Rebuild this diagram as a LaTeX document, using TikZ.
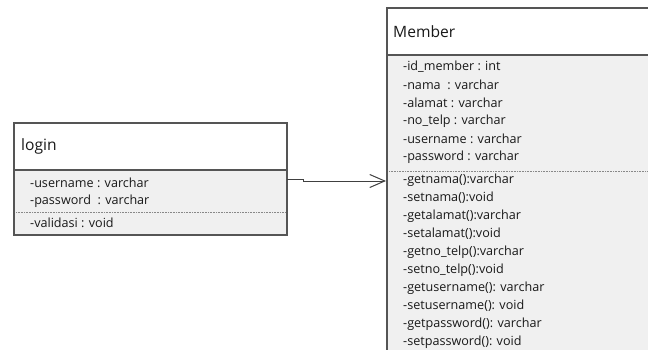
\documentclass[tikz,border=0pt]{standalone}
\usepackage{fontspec}
\setmainfont{Open Sans}
\usetikzlibrary{arrows.meta}
\definecolor{boxline}{HTML}{555555}
\definecolor{bodyfill}{HTML}{F0F0F0}
\definecolor{sepline}{HTML}{888888}
\tikzset{
  header/.style={draw=boxline, line width=1.3pt, fill=white},
  body/.style={draw=boxline, line width=1.3pt, fill=bodyfill},
  sep/.style={draw=sepline, line width=0.6pt, dash pattern=on 0.8pt off 0.8pt},
  title/.style={anchor=west, inner sep=0pt, font=\fontsize{15.6}{17}\selectfont, text=black!90},
  row/.style={anchor=west, inner sep=0pt, font=\fontsize{12.6}{14}\selectfont, text=black!90},
  assoc/.style={draw=black!75, line width=1pt, -{Straight Barb[length=15pt, width=13pt, line width=1pt]}}
}
\begin{document}
\begin{tikzpicture}[x=1pt, y=-1pt]
\useasboundingbox (0,0) rectangle (648,350);
\fill[white] (0,0) rectangle (648,350);

% login class
\draw[body] (14,170) rectangle (287,235);
\draw[header] (14,123) rectangle (287,170);
\node[title] (loginTitle) at (21,146) {login};
\node[row] (l1) at (30,183) {-username : varchar};
\node[row] (l2) at (30,201) {-password\ \ : varchar};
\draw[sep] (16,212) -- (285,212);
\node[row] (l3) at (30,223) {-validasi : void};
\coordinate (loginR) at (287,179);

% Member class (runs past the frame)
\begin{scope}
\clip (0,0) rectangle (648,350);
\draw[body] (387,55) rectangle (660,370);
\draw[header] (387,8) rectangle (660,55);
\end{scope}
\node[title] (memberTitle) at (393,32) {Member};
\foreach \t [count=\i from 0] in {%
  {-id\_member : int},
  {-nama\ \ : varchar},
  {-alamat : varchar},
  {-no\_telp : varchar},
  {-username : varchar},
  {-password : varchar}}
  \node[row] (ma\i) at (403,67+18*\i) {\t};
\draw[sep] (389,171) -- (648,171);
\foreach \t [count=\i from 0] in {%
  {-getnama():varchar},
  {-setnama():void},
  {-getalamat():varchar},
  {-setalamat():void},
  {-getno\_telp():varchar},
  {-setno\_telp():void},
  {-getusername(): varchar},
  {-setusername(): void},
  {-getpassword(): varchar},
  {-setpassword(): void}}
  \node[row] (mo\i) at (403,180+18*\i) {\t};
\coordinate (memberL) at (386,181);

% association
\draw[assoc] (loginR) -- (303,179) -- (303,181) -- (memberL);
\end{tikzpicture}
\end{document}
